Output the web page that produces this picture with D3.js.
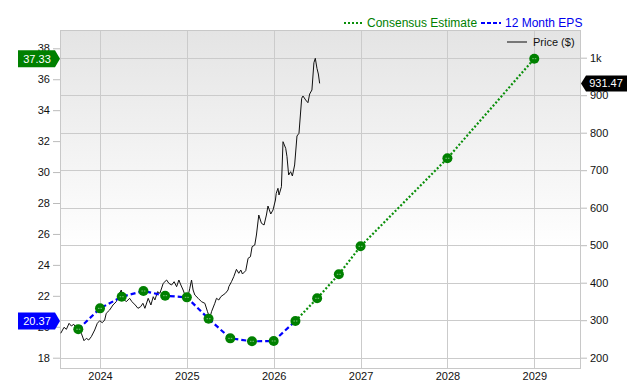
<!DOCTYPE html>
<html>
<head>
<meta charset="utf-8">
<script src="https://cdn.jsdelivr.net/npm/d3@7"></script>
<style>
  html, body { margin: 0; padding: 0; background: #ffffff; }
  svg { display: block; font-family: "Liberation Sans", Arial, Helvetica, sans-serif; }
</style>
</head>
<body>
<svg id="chart" width="640" height="380"></svg>
<script>
// ---------- DATA ----------
const yearTicks = [2024, 2025, 2026, 2027, 2028, 2029];
const epsTicks = [18, 20, 22, 24, 26, 28, 30, 32, 34, 36, 38];
const priceTicks = [200, 300, 400, 500, 600, 700, 800, 900, 1000];

// 12 Month EPS (actual), dates in decimal years
const epsDates  = [2023.75, 2024.0, 2024.25, 2024.5, 2024.75, 2025.0, 2025.25, 2025.5, 2025.75, 2026.0, 2026.25];
const epsValues = [19.84, 21.19, 21.94, 22.31, 22.01, 21.90, 20.52, 19.25, 19.06, 19.08, 20.37];

// Consensus Estimate
const estDates  = [2026.25, 2026.5, 2026.75, 2027.0, 2028.0, 2029.0];
const estValues = [20.37, 21.84, 23.39, 25.20, 30.89, 37.33];

// Price ($)
const priceDates = [2023.548, 2023.586, 2023.613, 2023.644, 2023.670, 2023.698, 2023.728, 2023.785, 2023.816, 2023.843,
  2023.870, 2023.900, 2023.939, 2023.969, 2023.997, 2024.026, 2024.054, 2024.072, 2024.111, 2024.149,
  2024.187, 2024.215, 2024.245, 2024.264, 2024.302, 2024.341, 2024.368, 2024.406, 2024.437, 2024.468,
  2024.494, 2024.517, 2024.555, 2024.586, 2024.613, 2024.632, 2024.663, 2024.690, 2024.728, 2024.767,
  2024.793, 2024.824, 2024.854, 2024.882, 2024.908, 2024.931, 2024.957, 2024.985, 2025.008, 2025.034,
  2025.054, 2025.072, 2025.092, 2025.130, 2025.169, 2025.207, 2025.238, 2025.264, 2025.284, 2025.322,
  2025.341, 2025.368, 2025.391, 2025.417, 2025.444, 2025.474, 2025.483, 2025.514, 2025.540, 2025.571,
  2025.598, 2025.621, 2025.640, 2025.678, 2025.705, 2025.732, 2025.751, 2025.782, 2025.801, 2025.828,
  2025.859, 2025.889, 2025.916, 2025.934, 2025.966, 2025.992, 2026.020, 2026.029, 2026.049, 2026.061,
  2026.089, 2026.107, 2026.138, 2026.153, 2026.172, 2026.195, 2026.215, 2026.241, 2026.268, 2026.291,
  2026.322, 2026.337, 2026.368, 2026.394, 2026.414, 2026.440, 2026.463, 2026.479, 2026.498, 2026.514,
  2026.529];
const priceValues = [265.1, 281.1, 275.7, 291.7, 284.5, 289.1, 278.4, 265.1, 245.3, 251.7,
  247.2, 256.0, 273.9, 291.7, 298.7, 293.3, 300.5, 318.4, 327.2, 340.5,
  349.3, 367.2, 380.5, 358.4, 349.3, 358.4, 349.3, 340.5, 331.7, 336.0,
  345.1, 331.7, 358.4, 340.5, 362.7, 353.9, 376.0, 371.7, 398.4, 407.2,
  398.4, 393.9, 402.7, 389.3, 407.2, 393.9, 380.5, 362.7, 358.4, 385.1,
  407.2, 380.5, 367.2, 358.4, 349.3, 345.1, 322.7, 305.1, 322.7, 345.1,
  358.4, 353.9, 362.7, 367.2, 371.7, 380.5, 389.3, 402.7, 416.0, 435.7,
  425.1, 433.9, 423.2, 432.0, 465.1, 469.3, 496.0, 500.5, 527.2, 580.5,
  558.4, 553.9, 580.5, 604.5, 583.2, 593.9, 620.5, 638.4, 651.7, 633.9,
  656.0, 776.0, 758.4, 736.0, 687.2, 696.0, 684.5, 713.9, 791.2, 798.4,
  891.7, 897.9, 887.2, 880.0, 903.2, 913.9, 986.7, 998.4, 971.7, 956.5,
  931.47];

const lastEps = 20.37, lastEst = 37.33, lastPrice = 931.47;

// ---------- LAYOUT ----------
const svg = d3.select("#chart");
const L = 60, R = 581, T = 30, B = 369;

const x = d3.scaleLinear().domain([2023.5395, 2029.538]).range([L, R]);
const yEps = d3.scaleLinear().domain([17.27, 39.183]).range([B, T]);
const yPrice = d3.scaleLinear().domain([169.87, 1073.87]).range([B, T]);

// background gradient
const defs = svg.append("defs");
const grad = defs.append("linearGradient").attr("id", "bg").attr("x1", 0).attr("y1", 0).attr("x2", 0).attr("y2", 1);
grad.append("stop").attr("offset", "0%").attr("stop-color", "#e4e4e4");
grad.append("stop").attr("offset", "65%").attr("stop-color", "#ffffff");
grad.append("stop").attr("offset", "100%").attr("stop-color", "#ffffff");
defs.append("clipPath").attr("id", "clip").append("rect")
  .attr("x", L).attr("y", T).attr("width", R - L).attr("height", B - T);

svg.append("rect").attr("x", L).attr("y", T).attr("width", R - L).attr("height", B - T)
  .attr("fill", "url(#bg)");

// grid
const grid = svg.append("g");
grid.selectAll("line.h").data(priceTicks).join("line")
  .attr("x1", L).attr("x2", R)
  .attr("y1", d => Math.round(yPrice(d)) + 0.5).attr("y2", d => Math.round(yPrice(d)) + 0.5)
  .attr("stroke", "#cbcbcb").attr("stroke-width", 1);
grid.selectAll("line.v").data(yearTicks).join("line")
  .attr("y1", T).attr("y2", B)
  .attr("x1", d => Math.round(x(d)) + 0.5).attr("x2", d => Math.round(x(d)) + 0.5)
  .attr("stroke", "#cbcbcb").attr("stroke-width", 1);

// border
svg.append("rect").attr("x", L + 0.5).attr("y", T + 0.5).attr("width", R - L - 1).attr("height", B - T - 1)
  .attr("fill", "none").attr("stroke", "#c8c8c8");

// axes
const styleAxis = g => {
  g.select(".domain").remove();
  g.selectAll(".tick line").attr("stroke", "#bbbbbb");
  g.selectAll(".tick text").attr("fill", "#111").style("font-size", "11px");
};
svg.append("g").attr("transform", `translate(${L},0)`)
  .call(d3.axisLeft(yEps).tickValues(epsTicks).tickSize(7).tickPadding(3).tickFormat(d3.format("d")))
  .call(styleAxis);
svg.append("g").attr("transform", `translate(${R},0)`)
  .call(d3.axisRight(yPrice).tickValues(priceTicks).tickSize(6).tickPadding(3)
    .tickFormat(d => d === 1000 ? "1k" : d3.format("d")(d)))
  .call(styleAxis);
svg.append("g").attr("transform", `translate(0,${B})`)
  .call(d3.axisBottom(x).tickValues(yearTicks).tickSize(0).tickPadding(3).tickFormat(d3.format("d")))
  .call(styleAxis);

// plot content
const plot = svg.append("g").attr("clip-path", "url(#clip)");

const priceData = priceDates.map((d, i) => [d, priceValues[i]]);
plot.append("path").datum(priceData)
  .attr("fill", "none").attr("stroke", "#111").attr("stroke-width", 1)
  .attr("d", d3.line().x(d => x(d[0])).y(d => yPrice(d[1])));

const estData = estDates.map((d, i) => [d, estValues[i]]);
plot.append("path").datum(estData)
  .attr("fill", "none").attr("stroke", "#0a8f0a").attr("stroke-width", 2.2).attr("stroke-dasharray", "2,2")
  .attr("d", d3.line().x(d => x(d[0])).y(d => yEps(d[1])));

const epsData = epsDates.map((d, i) => [d, epsValues[i]]);
plot.append("path").datum(epsData)
  .attr("fill", "none").attr("stroke", "#0000ff").attr("stroke-width", 2.2).attr("stroke-dasharray", "5,3")
  .attr("d", d3.line().x(d => x(d[0])).y(d => yEps(d[1])));

const markers = epsData.concat(estData.slice(1));
const mk = plot.selectAll("g.mk").data(markers).join("g")
  .attr("transform", d => `translate(${x(d[0])},${yEps(d[1])})`);
mk.append("circle").attr("r", 5).attr("fill", "#008000");
mk.append("line").attr("x1", -2).attr("x2", 2).attr("y1", 0).attr("y2", 0)
  .attr("stroke", "#9fd49f").attr("stroke-width", 0.8).attr("stroke-dasharray", "1.5,1");

// value tags
function leftTag(val, color) {
  const y = yEps(val);
  const g = svg.append("g");
  g.append("path").attr("fill", color)
    .attr("d", `M18,${y - 8.5} L55,${y - 8.5} L60,${y} L55,${y + 8.5} L18,${y + 8.5} Z`);
  g.append("text").attr("x", 37).attr("y", y + 4).attr("text-anchor", "middle")
    .attr("fill", "#fff").style("font-size", "11px").text(d3.format(".2f")(val));
}
leftTag(lastEst, "#008000");
leftTag(lastEps, "#0000ff");

{
  const y = yPrice(lastPrice);
  const g = svg.append("g");
  g.append("path").attr("fill", "#000")
    .attr("d", `M581,${y} L586,${y - 8} L627,${y - 8} L627,${y + 8} L586,${y + 8} Z`);
  g.append("text").attr("x", 606).attr("y", y + 4).attr("text-anchor", "middle")
    .attr("fill", "#fff").style("font-size", "11px").text(d3.format(".2f")(lastPrice));
}

// legend (top)
const lg = svg.append("g");
lg.append("line").attr("x1", 344).attr("x2", 362).attr("y1", 23).attr("y2", 23)
  .attr("stroke", "#0a8f0a").attr("stroke-width", 2).attr("stroke-dasharray", "2,2");
lg.append("text").attr("x", 367).attr("y", 27).attr("fill", "#008000").style("font-size", "12px")
  .text("Consensus Estimate");
lg.append("line").attr("x1", 481).attr("x2", 501).attr("y1", 23).attr("y2", 23)
  .attr("stroke", "#0000ff").attr("stroke-width", 2).attr("stroke-dasharray", "4,2");
lg.append("text").attr("x", 505).attr("y", 27).attr("fill", "#0000ee").style("font-size", "12px")
  .text("12 Month EPS");

// legend (price)
lg.append("line").attr("x1", 507).attr("x2", 527).attr("y1", 42).attr("y2", 42)
  .attr("stroke", "#777").attr("stroke-width", 2);
lg.append("text").attr("x", 533).attr("y", 46).attr("fill", "#111").style("font-size", "11px")
  .text("Price ($)");
</script>
</body>
</html>
